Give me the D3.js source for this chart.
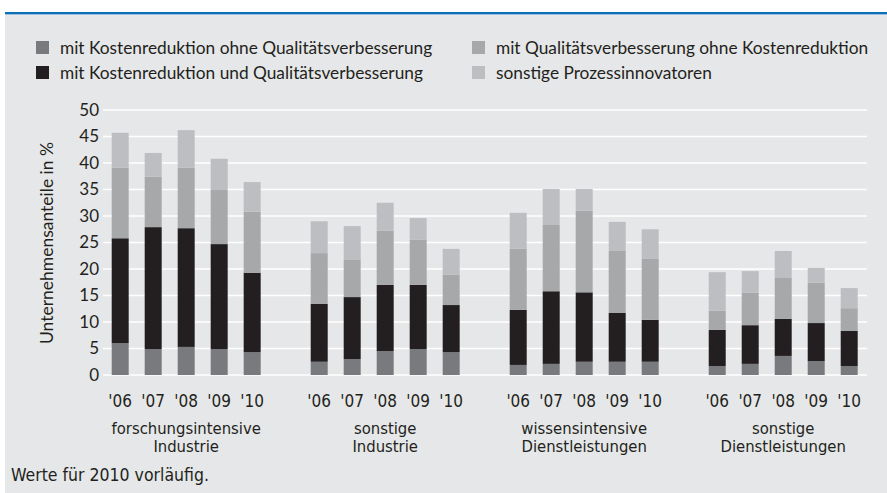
<!DOCTYPE html>
<html lang="de">
<head>
<meta charset="UTF-8">
<title>Prozessinnovatoren</title>
<script src="https://d3js.org/d3.v7.min.js"></script>
<style>
  body { margin: 0; background: #fff; }
  .grid line { stroke: #fff; stroke-width: 1.6; }
  .legend text, .ytick text, .ytitle { font-family: Lato, "Open Sans", sans-serif; fill: #231f20; }
  .cond { font-family: "Liberation Sans Narrow", "DejaVu Sans Condensed", sans-serif; font-stretch: condensed; fill: #231f20; }
</style>
</head>
<body>
<svg width="887" height="493"></svg>
<script>
const groups = ["forschungsintensive|Industrie", "sonstige|Industrie", "wissensintensive|Dienstleistungen", "sonstige|Dienstleistungen"];
const years = ["'06", "'07", "'08", "'09", "'10"];
const yTicks = [0, 5, 10, 15, 20, 25, 30, 35, 40, 45, 50];

// values per bar, groups in order, years '06..'10
const kostenOhneQual = [6.0, 4.9, 5.3, 4.9, 4.3,  2.5, 3.0, 4.5, 4.9, 4.3,  1.9, 2.1, 2.5, 2.5, 2.5,  1.7, 2.1, 3.6, 2.6, 1.7];
const kostenUndQual  = [19.8, 23.0, 22.4, 19.8, 15.0,  10.9, 11.7, 12.5, 12.1, 8.9,  10.4, 13.7, 13.1, 9.2, 7.9,  6.8, 7.3, 7.0, 7.2, 6.6];
const qualOhneKosten = [13.3, 9.5, 11.4, 10.2, 11.5,  9.6, 7.0, 10.2, 8.5, 5.7,  11.5, 12.5, 15.4, 11.7, 11.5,  3.6, 6.1, 7.7, 7.6, 4.3];
const sonstige       = [6.6, 4.5, 7.1, 5.9, 5.6,  6.0, 6.4, 5.3, 4.1, 4.9,  6.8, 6.8, 4.1, 5.5, 5.6,  7.3, 4.1, 5.1, 2.8, 3.8];

const seriesNames = [
  "mit Kostenreduktion ohne Qualitätsverbesserung",
  "mit Kostenreduktion und Qualitätsverbesserung",
  "mit Qualitätsverbesserung ohne Kostenreduktion",
  "sonstige Prozessinnovatoren"
];
const colors = ["#797a7d", "#231f20", "#a7a8aa", "#bdbec1"];

const rows = [];
groups.forEach((g, gi) => years.forEach((yr, yi) => {
  const i = gi * years.length + yi;
  rows.push({ group: g, year: yr, s0: kostenOhneQual[i], s1: kostenUndQual[i], s2: qualOhneKosten[i], s3: sonstige[i] });
}));

const svg = d3.select("svg");

// header stripe + panel
svg.append("rect").attr("x", 5).attr("y", 12).attr("width", 882).attr("height", 2.2).attr("fill", "#0b6fb6");
svg.append("rect").attr("x", 5).attr("y", 14.2).attr("width", 882).attr("height", 1).attr("fill", "#8fb8dc");
svg.append("rect").attr("x", 5).attr("y", 15.2).attr("width", 882).attr("height", 478).attr("fill", "#e6e7e8");

const x0 = d3.scaleBand().domain(groups).range([103.7, 865.7]).paddingInner(0.171).paddingOuter(0);
const x1 = d3.scaleBand().domain(years).range([0, x0.bandwidth()]).paddingInner(0.485).paddingOuter(0.2425);
const y = d3.scaleLinear().domain([0, 50]).range([375, 110]);

// gridlines
svg.append("g").attr("class", "grid")
  .selectAll("line").data(yTicks).join("line")
  .attr("x1", 103).attr("x2", 867)
  .attr("y1", d => y(d)).attr("y2", d => y(d));

// y axis labels
const yAxis = svg.append("g").attr("class", "ytick")
  .attr("transform", "translate(99,0)")
  .call(d3.axisLeft(y).tickValues(yTicks).tickSize(0).tickPadding(0));
yAxis.select(".domain").remove();
yAxis.selectAll("text").style("font-size", "17px");

svg.append("text").attr("class", "ytitle")
  .attr("transform", "translate(53,243) rotate(-90)")
  .attr("text-anchor", "middle")
  .style("font-size", "17.5px")
  .text("Unternehmensanteile in %");

// stacked bars
const stack = d3.stack().keys(["s0", "s1", "s2", "s3"]);
const layers = stack(rows);
svg.append("g").selectAll("g").data(layers).join("g")
  .attr("fill", (d, i) => colors[i])
  .selectAll("rect").data(d => d).join("rect")
  .attr("x", d => x0(d.data.group) + x1(d.data.year))
  .attr("width", x1.bandwidth())
  .attr("y", d => y(d[1]))
  .attr("height", d => y(d[0]) - y(d[1]));

// year labels and group names
groups.forEach(g => {
  svg.append("g").selectAll("text").data(years).join("text")
    .attr("class", "cond")
    .attr("x", d => x0(g) + x1(d) + x1.bandwidth() / 2)
    .attr("y", 407)
    .attr("text-anchor", "middle")
    .style("font-size", "17px")
    .text(d => d);
  const lines = g.split("|");
  svg.append("g").selectAll("text").data(lines).join("text")
    .attr("class", "cond")
    .attr("x", x0(g) + x0.bandwidth() / 2)
    .attr("y", (d, i) => 434 + i * 18)
    .attr("text-anchor", "middle")
    .style("font-size", "16.5px")
    .text(d => d);
});

// legend
const legendPos = [[36, 48], [36, 73], [472, 48], [472, 73]];
const legend = svg.append("g").attr("class", "legend")
  .selectAll("g").data(seriesNames).join("g")
  .attr("transform", (d, i) => `translate(${legendPos[i][0]},${legendPos[i][1]})`);
legend.append("rect").attr("x", 0).attr("y", -7).attr("width", 13).attr("height", 13)
  .attr("fill", (d, i) => colors[i]);
legend.append("text").attr("x", 24).attr("y", 6)
  .style("font-size", "17.3px")
  .text(d => d);

svg.append("text").attr("class", "cond")
  .attr("x", 11).attr("y", 481)
  .style("font-size", "17.5px")
  .text("Werte für 2010 vorläufig.");
</script>
</body>
</html>
